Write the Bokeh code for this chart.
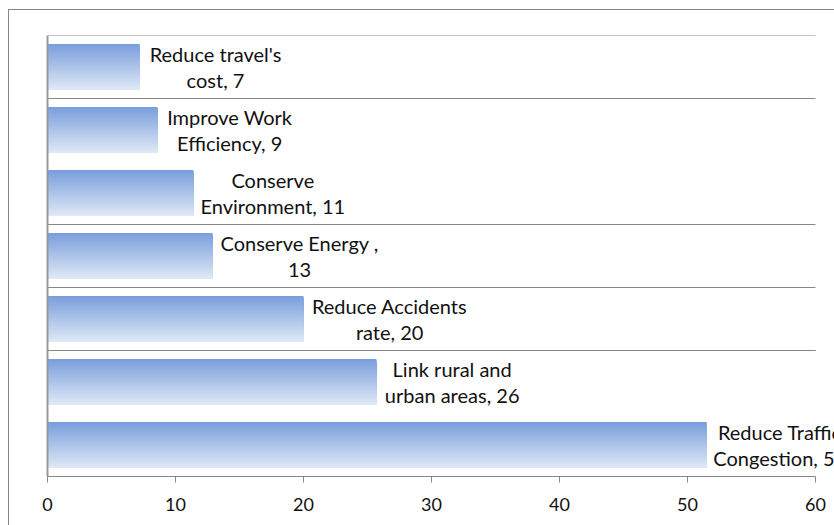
import numpy as np
from bokeh.plotting import figure
from bokeh.layouts import column
from bokeh.models import FixedTicker, Range1d
from bokeh.core.properties import value
from bokeh.embed import file_html
from bokeh.resources import INLINE

# ---- data (top to bottom as in the chart) ----
categories = ["Reduce travel's cost", "Improve Work Efficiency", "Conserve Environment",
              "Conserve Energy", "Reduce Accidents rate", "Link rural and urban areas",
              "Reduce Traffic Congestion"]
values = [7.2, 8.6, 11.4, 12.9, 20.0, 25.7, 51.5]
label_formats = ["Reduce travel's\ncost, {}", "Improve Work\nEfficiency, {}", "Conserve\nEnvironment, {}",
                 "Conserve Energy ,\n{}", "Reduce Accidents\nrate, {}", "Link rural and\nurban areas, {}",
                 "Reduce Traffic\nCongestion, {}"]
x_ticks = [0, 10, 20, 30, 40, 50, 60]

n = len(categories)
ys = [n - 1 - i for i in range(n)]
labels = [f.format(int(round(v))) for f, v in zip(label_formats, values)]

FONT = "Lato"
GRID = "#868686"


def text_width(s):
    """Rough pixel width of a string in Lato 20px."""
    w = 0.0
    for ch in s:
        if ch in "il'.,|!: j":
            w += 5
        elif ch in "frt":
            w += 7
        elif ch in "mw":
            w += 16
        elif ch in "WM":
            w += 17.5
        elif ch.isupper():
            w += 12
        elif ch.isdigit():
            w += 11
        else:
            w += 10.3
    return w


px_per_unit = 12.8
frame_w = 787
p = figure(width=825, height=515, output_backend="svg", toolbar_location=None,
           x_range=Range1d(0, frame_w / px_per_unit), y_range=Range1d(-0.5, n - 0.5),
           frame_width=frame_w, frame_height=441,
           min_border_left=38, min_border_right=0, min_border_top=25, min_border_bottom=49)
p.outline_line_color = None
p.background_fill_color = "white"
p.border_fill_color = "white"
p.xgrid.visible = False
p.ygrid.visible = False

# gridlines at category boundaries
bounds = [n - 0.5, n - 1.5, n - 3.5, n - 4.5, n - 5.5, n - 6.5 + 1]
p.segment(x0=[0] * len(bounds), x1=[60] * len(bounds), y0=bounds, y1=bounds,
          line_color=GRID, line_width=1.2)

# gradient bars: overlapping layers, each from its top edge down to the bar bottom
h = 0.73
N = 40
top = np.array([0x7a, 0x9f, 0xdc])
bot = np.array([0xdf, 0xe8, 0xf6])
for k in range(N):
    t = k / (N - 1)
    c = top + (bot - top) * t
    col = "#%02x%02x%02x" % tuple(int(round(v)) for v in c)
    hk = h * (1 - k / N)
    yc = [y - h / 2 + hk / 2 for y in ys]
    p.hbar(y=yc, right=values, left=0, height=hk, fill_color=col, line_color=None)

# labels: centred text block starting just right of the bar end
gap = 9
offsets = [gap + 0.5 * max(text_width(s) for s in lab.split("\n")) for lab in labels]
p.text(x=values, y=ys, text=labels, x_offset=offsets, text_align="center", text_baseline="middle",
       text_font=value(FONT), text_font_size="20px", text_color="#111111", text_line_height=1.05)

# axes
p.xaxis.ticker = FixedTicker(ticks=x_ticks)
p.xaxis.bounds = (0, 60)
p.xaxis.axis_line_color = GRID
p.xaxis.axis_line_width = 1.2
p.xaxis.major_tick_line_color = GRID
p.xaxis.major_tick_out = 6
p.xaxis.major_tick_in = 0
p.xaxis.minor_tick_line_color = None
p.xaxis.major_label_text_font = FONT
p.xaxis.major_label_text_font_size = "18px"
p.xaxis.major_label_text_color = "#111111"
p.xaxis.major_label_standoff = 15

p.yaxis.ticker = FixedTicker(ticks=[])
p.yaxis.axis_line_color = "#9a9a9a"
p.yaxis.axis_line_width = 2
p.yaxis.major_tick_line_color = None
p.yaxis.minor_tick_line_color = None
p.yaxis.major_label_text_font_size = "0px"

# outer chart border (left and top edges visible)
layout = column(p, styles={"margin-left": "8px", "margin-top": "9px",
                           "border-left": "1px solid #868686", "border-top": "1px solid #868686"})

open("out.html", "w").write(file_html(layout, INLINE))
